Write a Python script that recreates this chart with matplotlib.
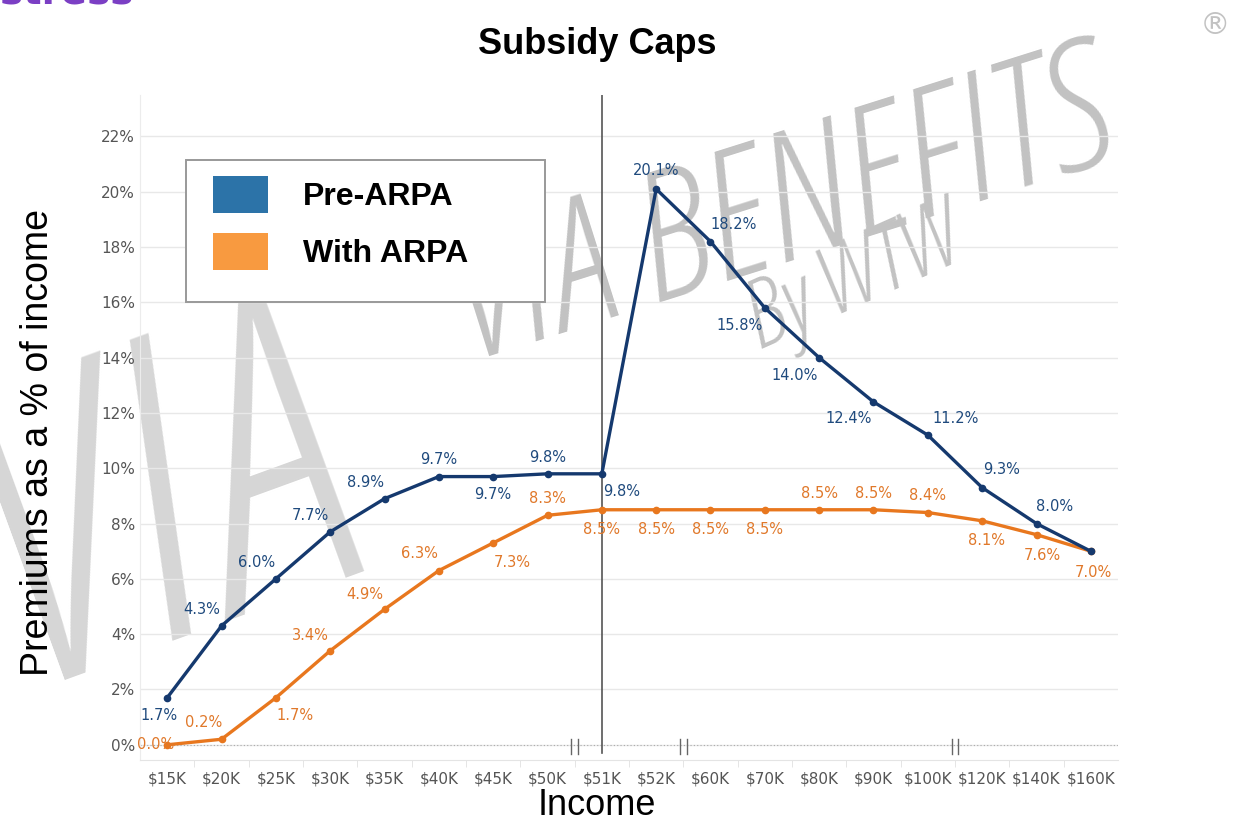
import matplotlib.pyplot as plt
from matplotlib import font_manager as fm
from matplotlib.patches import Patch, Rectangle
from matplotlib.ticker import FuncFormatter

incomes = ['$15K', '$20K', '$25K', '$30K', '$35K', '$40K', '$45K', '$50K', '$51K',
           '$52K', '$60K', '$70K', '$80K', '$90K', '$100K', '$120K', '$140K', '$160K']
pre_arpa = [1.7, 4.3, 6.0, 7.7, 8.9, 9.7, 9.7, 9.8, 9.8,
            20.1, 18.2, 15.8, 14.0, 12.4, 11.2, 9.3, 8.0, 7.0]
with_arpa = [0.0, 0.2, 1.7, 3.4, 4.9, 6.3, 7.3, 8.3, 8.5,
             8.5, 8.5, 8.5, 8.5, 8.5, 8.4, 8.1, 7.6, 7.0]

# where each point label sits (offset in points), None = no label
pre_off = [(-6, -13), (-14, 12), (-14, 12), (-14, 12), (-14, 12), (0, 12), (0, -13), (0, 12),
           (14, -13), (0, 13), (17, 12), (-18, -13), (-18, -13), (-18, -12), (20, 12),
           (14, 13), (13, 12), None]
arpa_off = [(-8, 0), (-13, 12), (14, -13), (-14, 11), (-14, 11), (-14, 12), (14, -14), (0, 12),
            (0, -14), (0, -14), (0, -14), (0, -14), (0, 12), (0, 12), (0, 12),
            (3, -14), (4, -15), (2, -15)]

navy = '#15396e'
orange = '#e8771e'
navy_txt = '#1f4a7d'
orange_txt = '#e0782a'

fig = plt.figure(figsize=(12.35, 8.22), dpi=100)
W, H = 1235, 822
ax = fig.add_axes([140 / W, 1 - 760 / H, 978 / W, 665 / H])
ax.set_facecolor('none')


# pick a light, narrow face for the watermark if one is installed
def pick_watermark_font():
    wmap = {'ultralight': 100, 'light': 300, 'normal': 400, 'regular': 400, 'book': 400,
            'medium': 500, 'semibold': 600, 'bold': 700, 'heavy': 800, 'black': 900}
    best, best_score = None, 1e9
    for f in fm.fontManager.ttflist:
        if f.name not in ('DejaVu Sans', 'Noto Sans', 'Open Sans', 'Roboto', 'Lato',
                          'Liberation Sans', 'Liberation Sans Narrow', 'Roboto Condensed'):
            continue
        w = f.weight if isinstance(f.weight, int) else wmap.get(str(f.weight).lower(), 400)
        narrow = 'ondensed' in str(f.stretch) or 'Narrow' in f.name or 'ondensed' in f.name
        score = (0 if narrow else 3) + (0 if f.style in ('italic', 'oblique') else 1) \
            + abs(w - 330) / 150
        if score < best_score:
            best, best_score = f.fname, score
    return best


wm_file = pick_watermark_font()


def watermark(s, x0, y0, angle, size, color):
    fp = fm.FontProperties(fname=wm_file, size=size)
    fig.text(x0 / W, 1 - y0 / H, s, fontproperties=fp, color=color, rotation=angle,
             rotation_mode='anchor', ha='left', va='baseline', zorder=-2)


watermark('VIA', 18, 680, 20, 300, '#d6d6d6')
watermark('VIA BENEFITS', 470, 362, 17.5, 128, '#c2c2c2')
watermark('By WTW', 760, 350, 24, 68, '#c2c2c2')
fig.text(1215 / W, 1 - 25 / H, '®', fontsize=22, color='#c2c2c2', ha='center', va='center',
         zorder=-2)

x = list(range(len(incomes)))
ax.plot(x, pre_arpa, color=navy, lw=2.4, marker='o', ms=4.5, zorder=4)
ax.plot(x, with_arpa, color=orange, lw=2.4, marker='o', ms=4.5, zorder=3)

for i, v in enumerate(pre_arpa):
    if pre_off[i] is None:
        continue
    ax.annotate(f'{v:.1f}%', (i, v), xytext=pre_off[i], textcoords='offset points',
                ha='center', va='center', color=navy_txt, fontsize=10.5, zorder=6)
for i, v in enumerate(with_arpa):
    ax.annotate(f'{v:.1f}%', (i, v), xytext=arpa_off[i], textcoords='offset points',
                ha='center', va='center', color=orange_txt, fontsize=10.5, zorder=6)

ax.set_xlim(-0.5, len(incomes) - 0.5)
ax.set_ylim(-0.55, 23.5)
ax.set_yticks(range(0, 23, 2))
ax.yaxis.set_major_formatter(FuncFormatter(lambda v, p: f'{v:.0f}%'))
ax.set_xticks(x)
ax.set_xticklabels(incomes)
ax.set_xticks([xi + 0.5 for xi in x[:-1]], minor=True)
ax.tick_params(axis='both', which='major', labelsize=11, length=0, labelcolor='#555555')
ax.tick_params(axis='x', which='major', pad=8)
ax.tick_params(axis='x', which='minor', length=5, color='#e0e0e0', direction='out')

ax.grid(axis='y', color='#e8e8e8', lw=1)
ax.set_axisbelow(True)
for s in ['top', 'right']:
    ax.spines[s].set_visible(False)
ax.spines['left'].set_color('#ececec')
ax.spines['bottom'].set_color('#e4e4e4')

ax.axhline(0, color='#aaaaaa', lw=0.8, ls=(0, (1, 2)), zorder=1)
ax.axvline(8, ymin=0.01, ymax=1, color='#555555', lw=1.2, zorder=2)

# axis break marks
for bx in [7.5, 9.5, 14.5]:
    for dx in [-0.06, 0.06]:
        ax.plot([bx + dx, bx + dx], [-0.35, 0.2], color='#666666', lw=1, zorder=5)

fig.text(597 / W, 1 - 45 / H, 'Subsidy Caps', fontsize=26, fontweight='bold',
         family='Liberation Sans', ha='center', va='center')
fig.text(597 / W, 1 - 805 / H, 'Income', fontsize=26, family='Liberation Sans',
         ha='center', va='center')
fig.text(38 / W, 1 - 442 / H, 'Premiums as a % of income', fontsize=27,
         family='Liberation Sans', rotation=90, ha='center', va='center')

# legend
fig.patches.append(Rectangle((186 / W, 1 - 302 / H), 359 / W, 142 / H,
                             transform=fig.transFigure, facecolor='white',
                             edgecolor='#999999', lw=1.4, zorder=5))
handles = [Patch(facecolor='#2c73a8', label='Pre-ARPA'),
           Patch(facecolor='#f89a40', label='With ARPA')]
leg = fig.legend(handles=handles, loc='upper left', bbox_to_anchor=(213 / W, 1 - 176 / H),
                 bbox_transform=fig.transFigure,
                 prop={'size': 23, 'weight': 'bold', 'family': 'Liberation Sans'},
                 handlelength=1.72, handleheight=1.4, handletextpad=1.1, labelspacing=0.62,
                 borderpad=0, borderaxespad=0, frameon=False)
leg.set_zorder(6)

fig.text(0.0, 0.994, 'stress', fontsize=28, color='#7b3fc4', fontweight='bold',
         ha='left', va='baseline')

fig.savefig('out.png', dpi=100)
